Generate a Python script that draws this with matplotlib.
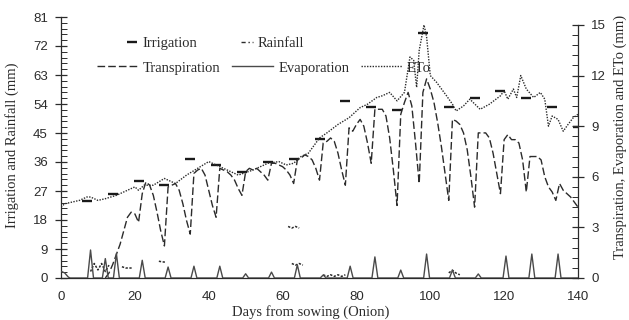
import numpy as np
import matplotlib.pyplot as plt
from matplotlib.lines import Line2D
from matplotlib.ticker import MultipleLocator

nan = np.nan

# irrigation events (mm, left axis)
irr_day = [7, 14, 21, 28, 35, 42, 49, 56, 63, 70, 77, 84, 91, 98, 105, 112, 119, 126, 133, 140]
irr_mm = [24, 26, 30, 29, 37, 35, 33, 36, 37, 43, 55, 53, 52, 76, 53, 56, 58, 56, 53, 47]

# rainfall (mm, left axis), nan breaks between events
rain_day = [8, 9, 10, 11, 12, 13, nan,
            16.5, 17.5, 18.5, 19.5, nan,
            26.5, 27.5, 28.5, nan,
            61.5, 62.5, 63.5, 64.5, nan,
            62.5, 63.5, 64.5, 65.5, nan,
            71, 72, 73, 74, 75, 76, 77, nan,
            105, 106, 107, 108]
rain_mm = [2.0, 4.5, 2.5, 4.5, 2.0, 4.0, nan,
           3.5, 3.1, 3.1, 3.1, nan,
           5.2, 5.0, 4.9, nan,
           16.0, 15.5, 16.0, 15.5, nan,
           4.5, 4.0, 4.5, 4.0, nan,
           1.0, 0.5, 1.0, 0.5, 1.0, 0.5, 1.0, nan,
           1.6, 2.4, 1.5, 1.0]

# transpiration (mm, right axis)
tr_day = [12, 13, 14, 15, 16, 17, 18, 19, 20, 21, 22, 23, 24, 25, 26, 27, 28, 29, 30,
          31, 32, 33, 34, 35, 36, 37, 38, 39, 40, 41, 42, 43, 44, 45, 46, 47, 48, 49,
          50, 51, 52, 53, 54, 55, 56, 57, 58, 59, 60, 61, 62, 63, 64, 65, 66, 67, 68,
          69, 70, 71, 72, 73, 74, 75, 76, 77, 78, 79, 80, 81, 82, 83, 84, 85, 86, 87,
          88, 89, 90, 91, 92, 93, 94, 95, 96, 97, 98, 99, 100, 101, 102, 103, 104, 105,
          106, 107, 108, 109, 110, 111, 112, 113, 114, 115, 116, 117, 118, 119, 120,
          121, 122, 123, 124, 125, 126, 127, 128, 129, 130, 131, 132, 133, 134, 135,
          136, 137, 138, 139, 140]
tr_mm = [0.0, 0.3, 0.8, 1.4, 2.0, 2.8, 3.6, 3.9, 3.8, 3.3, 5.0, 5.7, 5.5, 4.9, 3.9, 2.8, 1.9, 5.4, 5.5,
         5.6, 5.2, 4.4, 3.4, 2.6, 6.2, 6.4, 6.5, 6.1, 5.2, 4.3, 3.6, 6.5, 6.4, 6.3, 6.1, 5.8, 5.3, 4.9,
         6.3, 6.5, 6.4, 6.5, 6.3, 6.1, 5.8, 6.8, 6.8, 6.7, 6.6, 6.4, 6.1, 5.6, 7.0, 7.1, 7.3, 7.2, 7.0,
         6.5, 5.8, 8.0, 8.1, 8.3, 8.1, 7.4, 6.4, 5.5, 8.9, 8.7, 9.1, 9.4, 9.0, 8.0, 6.8, 10.0, 10.0, 10.0,
         9.6, 8.3, 6.4, 4.3, 9.7, 10.4, 11.0, 10.2, 8.0, 5.6, 11.0, 11.8, 11.2, 10.4, 9.2, 7.8, 6.2, 4.6,
         9.4, 9.3, 9.1, 8.6, 7.6, 6.0, 4.2, 8.6, 8.6, 8.6, 8.3, 7.4, 6.2, 5.0, 8.2,
         8.5, 8.2, 8.2, 8.0, 7.0, 5.1, 7.2, 7.2, 7.2, 7.0, 6.0, 5.4, 5.1, 4.6, 5.6,
         5.2, 5.0, 4.8, 4.5, 4.2]

# soil evaporation (mm, right axis)
ev_day = [0, 1, 2, 2.5,
          7.2, 8, 8.8, 11.2, 12, 12.8, 14.2, 15, 15.8, 21.2, 22, 22.8,
          28.2, 29, 29.8, 35.2, 36, 36.8, 42.2, 43, 43.8, 49.2, 50, 50.8,
          56.2, 57, 57.8, 63.2, 64, 64.8, 70.2, 71, 71.8, 77.5, 78.3, 79.1,
          84.2, 85, 85.8, 91.2, 92, 92.8, 98.2, 99, 99.8, 105.2, 106, 106.8,
          112.2, 113, 113.8, 119.7, 120.5, 121.3, 126.7, 127.5, 128.3,
          133.8, 134.6, 135.4, 140]
ev_mm = [0.4, 0.3, 0.05, 0,
         0, 1.66, 0, 0, 1.15, 0, 0, 1.45, 0, 0, 1.05, 0,
         0, 0.65, 0, 0, 0.7, 0, 0, 0.7, 0, 0, 0.25, 0,
         0, 0.35, 0, 0, 0.78, 0, 0, 0.18, 0, 0, 0.7, 0,
         0, 1.25, 0, 0, 0.47, 0, 0, 1.42, 0, 0, 0.47, 0,
         0, 0.24, 0, 0, 1.3, 0, 0, 1.42, 0,
         0, 1.42, 0, 0]

# reference evapotranspiration (mm, right axis)
eto_day = [0, 1, 3, 5, 7, 8, 10, 12, 15, 18, 20, 21, 22.5, 25, 28, 29, 31, 34, 37, 40,
           42, 45, 48, 52, 56, 59, 61, 63, 65, 67, 70, 72, 75, 78, 81, 83, 85.5, 87, 89,
           91, 93, 94.5, 95.5, 96.3, 97, 98.3, 99, 100, 101.7, 104.4, 106, 107, 109,
           110.7, 113.5, 116, 119, 120, 121, 122.5, 123.4, 124.5, 126, 128, 129.8, 131,
           132, 133, 134.6, 136, 137.3, 138.7, 140]
eto_mm = [4.2, 4.4, 4.5, 4.6, 4.8, 4.8, 4.6, 4.7, 4.9, 5.2, 5.4, 5.2, 5.5, 5.5, 5.9, 5.8, 5.6, 6.1, 6.5, 6.9,
          6.7, 6.4, 6.1, 6.4, 6.8, 6.9, 6.7, 6.8, 7.2, 7.4, 8.3, 8.6, 9.1, 9.5, 10.1, 10.3, 10.7, 10.8, 11.0,
          10.5, 11.0, 13.1, 12.9, 11.3, 13.5, 15.0, 14.3, 12.0, 11.6, 10.8, 10.3, 9.9, 10.2,
          10.6, 10.0, 10.3, 10.8, 11.1, 10.6, 11.2, 10.7, 12.0, 11.2, 10.7, 11.0, 10.6,
          9.0, 9.6, 9.4, 8.7, 9.1, 9.5, 9.7]

ink = '#2b2b2b'
serif = 'Liberation Serif'
sans = 'Liberation Sans'

fig = plt.figure(figsize=(6.29, 3.2), dpi=100)
ax = fig.add_axes([61 / 629, 42 / 320, 517 / 629, 261 / 320])
ax2 = ax.twinx()

ax.plot(irr_day, irr_mm, ls='none', marker='_', ms=7, mew=1.7, color='#1a1a1a')
ax.plot(rain_day, rain_mm, ls=(0, (1.5, 1)), lw=1.1, color=ink)

l_tr, = ax2.plot(tr_day, tr_mm, ls=(0, (5.5, 2.2)), lw=1.0, color=ink)
l_ev, = ax2.plot(ev_day, ev_mm, ls='-', lw=1.0, color='#4a4a4a', solid_joinstyle='round')
l_eto, = ax2.plot(eto_day, eto_mm, ls=(0, (1, 1)), lw=1.0, color=ink)

ax.set_xlim(0, 140)
ax.set_ylim(0, 81)
ax2.set_ylim(0, 15.47)

ax.xaxis.set_major_locator(MultipleLocator(20))
ax.yaxis.set_major_locator(MultipleLocator(9))
ax.yaxis.set_minor_locator(MultipleLocator(1.8))
ax2.yaxis.set_major_locator(MultipleLocator(3))
ax2.yaxis.set_minor_locator(MultipleLocator(0.6))

for a in (ax, ax2):
    a.spines['top'].set_visible(False)
    for s in a.spines.values():
        s.set_color(ink)
        s.set_linewidth(0.9)
ax.spines['right'].set_visible(False)
ax2.spines['left'].set_visible(False)
ax2.spines['bottom'].set_visible(False)
ax2.spines['right'].set_bounds(0, 15)

ax.tick_params(axis='x', length=0, pad=9, labelsize=9.5, colors=ink)
ax.tick_params(axis='y', which='major', direction='inout', length=9, width=0.9,
               pad=5, labelsize=9.5, colors=ink)
ax.tick_params(axis='y', which='minor', direction='in', length=4, width=0.7, color=ink)
ax2.tick_params(axis='y', which='major', direction='inout', length=9, width=0.9,
                pad=5, labelsize=9.5, colors=ink)
ax2.tick_params(axis='y', which='minor', direction='in', length=4, width=0.7, color=ink)
for lab in ax.get_xticklabels() + ax.get_yticklabels() + ax2.get_yticklabels():
    lab.set_family(sans)

ax.set_xlabel('Days from sowing (Onion)', family=serif, fontsize=10.5, color=ink)
ax.set_ylabel('Irrigation and Rainfall (mm)', family=serif, fontsize=10.5, color=ink)
ax2.set_ylabel('Transpiration, Evaporation and ETo (mm)', family=serif, fontsize=10.5, color=ink)
ax.xaxis.set_label_coords(0.483, -0.105)
ax.yaxis.set_label_coords(-0.081, 0.51)
ax2.yaxis.set_label_coords(1.068, 0.54)

# legend: two rows laid out separately
h_irr = Line2D([], [], ls='none', marker='_', ms=7, mew=1.7, color='#1a1a1a')
h_rain = Line2D([], [], ls=(0, (3, 2, 1, 2)), lw=1.0, color=ink)
leg1 = fig.legend([h_irr, h_rain], ['Irrigation', 'Rainfall'], ncol=2, frameon=False,
                  loc='center left', bbox_to_anchor=(126 / 629, 1 - 43 / 320),
                  borderpad=0, borderaxespad=0, handlelength=0.8, handletextpad=0.35,
                  columnspacing=3.0, prop={'family': serif, 'size': 10.5})
leg2 = fig.legend([l_tr, l_ev, l_eto], ['Transpiration', 'Evaporation', 'ETo'], ncol=3,
                  frameon=False, loc='center left', bbox_to_anchor=(97 / 629, 1 - 68 / 320),
                  borderpad=0, borderaxespad=0, handlelength=2.8, handletextpad=0.35,
                  columnspacing=0.8, prop={'family': serif, 'size': 10.5})
for leg in (leg1, leg2):
    for t in leg.get_texts():
        t.set_color(ink)

fig.savefig('out.png', dpi=100)
